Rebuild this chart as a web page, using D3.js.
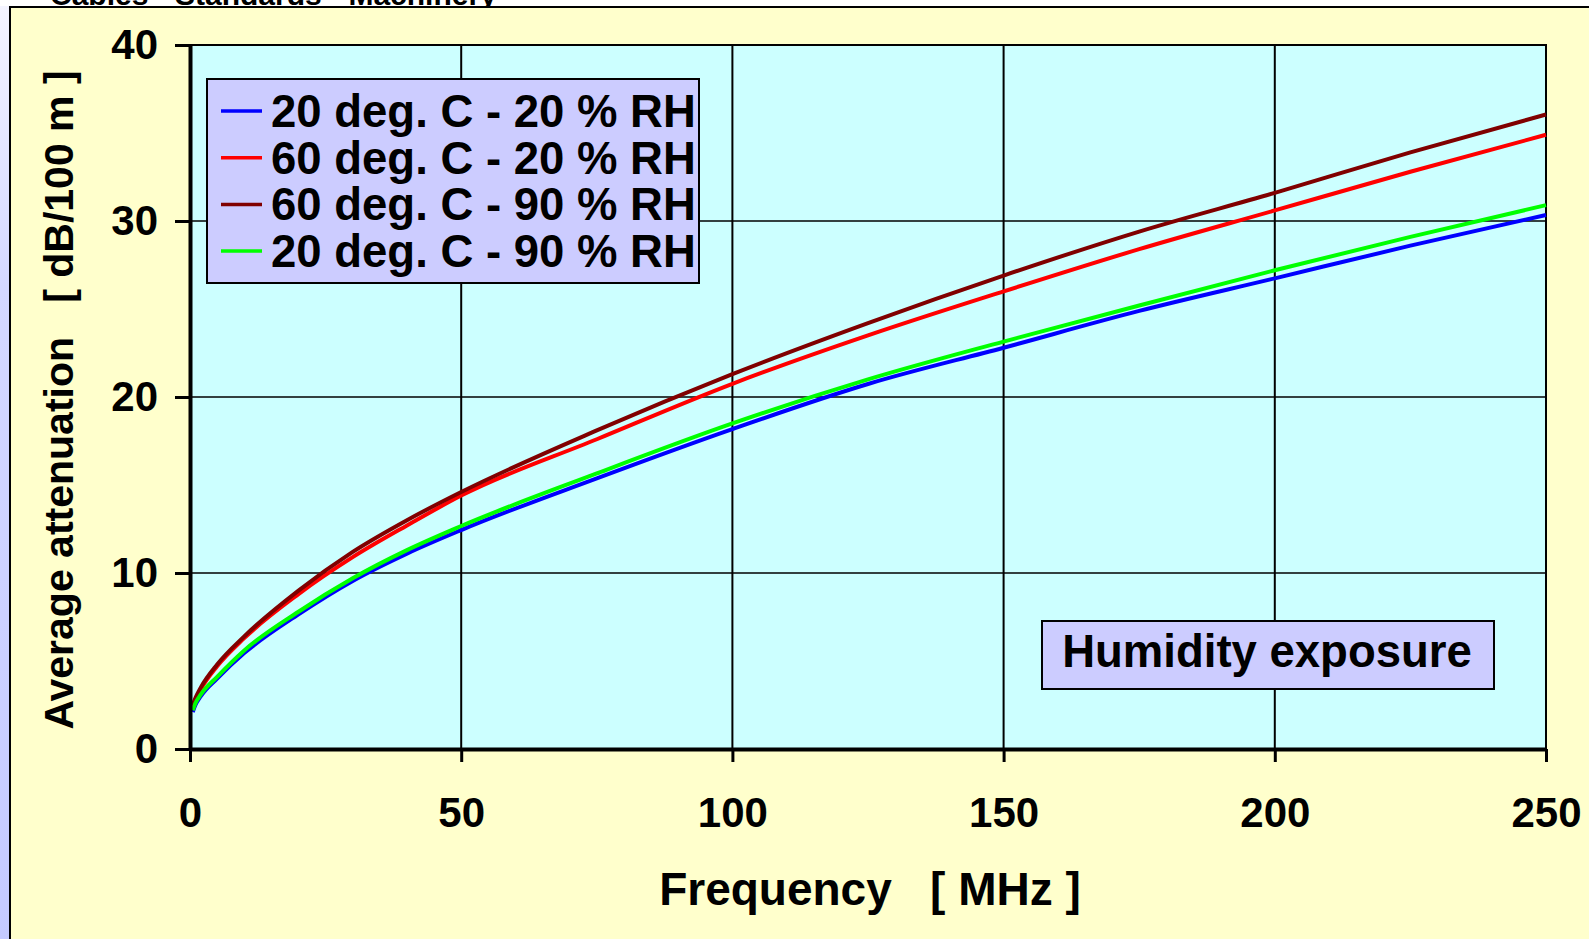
<!DOCTYPE html>
<html>
<head>
<meta charset="utf-8">
<script src="https://cdn.jsdelivr.net/npm/d3@7"></script>
<style>
body { margin: 0; overflow: hidden; background: #fff; }
text { font-family: "Liberation Sans", Arial, sans-serif; font-weight: bold; fill: #000; }
</style>
</head>
<body>
<div id="chart-area"></div>
<script>
// frequency in MHz, attenuation in dB/100 m
var freqs = [0.5, 1, 2, 5, 10, 20, 30, 40, 50, 75, 100, 125, 150, 175, 200, 225, 250];
var t20rh20 = [2.1, 2.5, 3.0, 4.0, 5.45, 7.65, 9.55, 11.1, 12.44, 15.38, 18.18, 20.74, 22.8, 24.89, 26.74, 28.6, 30.34];
var t60rh20 = [2.4, 2.8, 3.4, 4.7, 6.3, 8.8, 10.9, 12.7, 14.4, 17.6, 20.75, 23.5, 26.0, 28.4, 30.6, 32.8, 34.9];
var t60rh90 = [2.5, 2.9, 3.5, 4.8, 6.4, 9.0, 11.2, 13.0, 14.6, 18.1, 21.3, 24.2, 26.9, 29.4, 31.6, 33.9, 36.05];
var t20rh90 = [2.2, 2.6, 3.1, 4.1, 5.6, 7.8, 9.7, 11.3, 12.67, 15.66, 18.5, 21.0, 23.15, 25.2, 27.2, 29.1, 30.9];

var seriesNames = ["20 deg. C - 20 % RH", "60 deg. C - 20 % RH", "60 deg. C - 90 % RH", "20 deg. C - 90 % RH"];
var seriesColors = ["#0000ff", "#ff0000", "#800000", "#00ff00"];
var xTicks = [0, 50, 100, 150, 200, 250];
var yTicks = [0, 10, 20, 30, 40];

var series = [t20rh20, t60rh20, t60rh90, t20rh90].map(function(vals, i) {
    return { name: seriesNames[i], color: seriesColors[i],
             values: vals.map(function(v, j) { return { f: freqs[j], v: v }; }) };
});

var margin = {top: 45, left: 190};
var width = 1356;
var height = 704;

var svg = d3.select("#chart-area").append("svg")
    .attr("width", 1589)
    .attr("height", 939);

var defs = svg.append("defs");
var grad = defs.append("linearGradient").attr("id", "side")
    .attr("x1", 0).attr("y1", 0).attr("x2", 0).attr("y2", 1);
grad.append("stop").attr("offset", "0").attr("stop-color", "#f4f4ff");
grad.append("stop").attr("offset", "0.3").attr("stop-color", "#d4d8ff");
grad.append("stop").attr("offset", "1").attr("stop-color", "#c4caff");

svg.append("rect").attr("width", 1589).attr("height", 939).attr("fill", "#fff");
svg.append("rect").attr("x", 0).attr("y", 6).attr("width", 12).attr("height", 940)
    .attr("fill", "url(#side)");

// slide header, cut off at the top as in the original
svg.append("text")
    .attr("x", 50).attr("y", 5)
    .attr("font-size", "30px")
    .text("Cables - Standards - Machinery");

// yellow slide frame
svg.append("rect")
    .attr("x", 10).attr("y", 7)
    .attr("width", 1620).attr("height", 1000)
    .attr("fill", "#ffffcc")
    .attr("stroke", "#000").attr("stroke-width", 2);

var g = svg.append("g")
    .attr("transform", "translate(" + margin.left + "," + margin.top + ")");

var x = d3.scaleLinear().domain([0, 250]).range([0, width]);
var y = d3.scaleLinear().domain([0, 40]).range([height, 0]);

g.append("rect")
    .attr("width", width).attr("height", height)
    .attr("fill", "#ccffff")
    .attr("stroke", "#000").attr("stroke-width", 2);

g.selectAll(".vgrid").data(xTicks.slice(1, -1)).enter()
    .append("line").attr("class", "vgrid")
    .attr("x1", function(d) { return x(d); }).attr("x2", function(d) { return x(d); })
    .attr("y1", 0).attr("y2", height)
    .attr("stroke", "#000").attr("stroke-width", 2);
g.selectAll(".hgrid").data(yTicks.slice(1, -1)).enter()
    .append("line").attr("class", "hgrid")
    .attr("x1", 0).attr("x2", width)
    .attr("y1", function(d) { return y(d); }).attr("y2", function(d) { return y(d); })
    .attr("stroke", "#000").attr("stroke-width", 1.5);

var line = d3.line()
    .x(function(d) { return x(d.f); })
    .y(function(d) { return y(d.v); })
    .curve(d3.curveMonotoneX);

g.selectAll(".series").data(series).enter()
    .append("path").attr("class", "series")
    .attr("d", function(d) { return line(d.values); })
    .attr("fill", "none")
    .attr("stroke", function(d) { return d.color; })
    .attr("stroke-width", 4);

var bottomAxis = d3.axisBottom(x).tickValues(xTicks).tickSize(13).tickSizeOuter(0).tickPadding(35);
var xAxis = g.append("g")
    .attr("class", "bottom axis")
    .attr("transform", "translate(0," + height + ")")
    .call(bottomAxis);

var leftAxis = d3.axisLeft(y).tickValues(yTicks).tickSize(15).tickSizeOuter(0).tickPadding(17);
var yAxis = g.append("g")
    .attr("class", "left axis")
    .call(leftAxis);

[xAxis, yAxis].forEach(function(a) {
    a.select(".domain").attr("stroke", "#000").attr("stroke-width", 4);
    a.selectAll(".tick line").attr("stroke", "#000").attr("stroke-width", 3);
    a.selectAll(".tick text")
        .attr("font-family", "Liberation Sans, Arial, sans-serif")
        .attr("font-weight", "bold")
        .attr("font-size", "42px")
        .attr("fill", "#000");
});

// legend
var legend = svg.append("g").attr("transform", "translate(207,79)");
legend.append("rect")
    .attr("width", 492).attr("height", 204)
    .attr("fill", "#ccccff")
    .attr("stroke", "#000").attr("stroke-width", 2);
var rows = legend.selectAll(".row").data(series).enter()
    .append("g").attr("class", "row")
    .attr("transform", function(d, i) { return "translate(0," + (32 + i * 46.7) + ")"; });
rows.append("line")
    .attr("x1", 14).attr("x2", 55)
    .attr("stroke", function(d) { return d.color; })
    .attr("stroke-width", 3.5);
rows.append("text")
    .attr("x", 64).attr("y", 16)
    .attr("font-size", "45.5px")
    .text(function(d) { return d.name; });

// note box
svg.append("rect")
    .attr("x", 1042).attr("y", 621)
    .attr("width", 452).attr("height", 68)
    .attr("fill", "#ccccff")
    .attr("stroke", "#000").attr("stroke-width", 2);
svg.append("text")
    .attr("x", 1267).attr("y", 667)
    .attr("text-anchor", "middle")
    .attr("font-size", "45.5px")
    .text("Humidity exposure");

// axis titles
svg.append("text")
    .attr("x", 870).attr("y", 905)
    .attr("text-anchor", "middle")
    .attr("font-size", "46px")
    .style("white-space", "pre")
    .text("Frequency   [ MHz ]");
svg.append("text")
    .attr("transform", "translate(73,400) rotate(-90)")
    .attr("text-anchor", "middle")
    .attr("font-size", "41px")
    .style("white-space", "pre")
    .text("Average attenuation   [ dB/100 m ]");
</script>
</body>
</html>
